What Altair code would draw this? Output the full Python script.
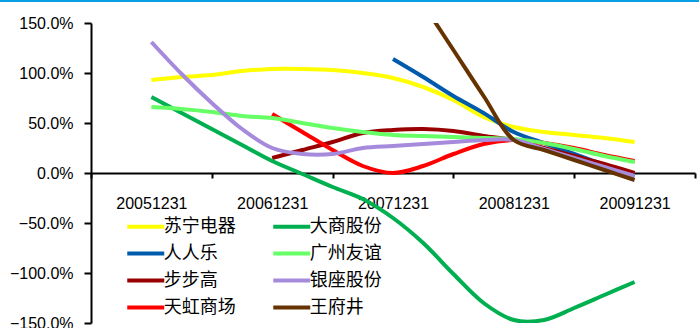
import altair as alt
import pandas as pd

# ---- data (quarterly, index 0 = 20051231 ... 16 = 20091231) ----
quarters = list(range(17))
x_labels = ['20051231', '20061231', '20071231', '20081231', '20091231']
N = None
suning = [93, 96, 98, 102, 104, 104, 103, 100, 95, 86, 73, 56, 46, 41, 38, 35, 31]
renrenle = [N] * 8 + [114, 96, 77, 60, 41, 30, 19, 8, -3]
bubugao = [N] * 4 + [15, 23, 31, 40, 43, 44, 42, 37, 33, 25, 17, 9, 0]
tianhong = [N] * 4 + [59, 41, 23, 7, 0, 7, 19, 29, 33, 30, 25, 18, 12]
dashang = [76, 60, 44, 28, 12, -1, -14, -26, -45, -70, -101, -130, -147, -147, -135, -122, -109]
guangzhou = [66, 64, 61, 57, 55, 50, 45, 41, 38, 37, 36, 35, 34, 30, 24, 17, 11]
yinzuo = [131, 99, 70, 44, 25, 19, 19, 25, 27, 29, 31, 33, 33, 24, 15, 6, -3]
wangfujing = [N] * 9 + [169, 123, 77, 33, 23, 13, 3, -7]

series = [
    ('苏宁电器', suning, '#FFFF00'),
    ('人人乐', renrenle, '#005BAC'),
    ('步步高', bubugao, '#990000'),
    ('天虹商场', tianhong, '#FF0000'),
    ('大商股份', dashang, '#00B050'),
    ('广州友谊', guangzhou, '#66FF66'),
    ('银座股份', yinzuo, '#A68BDD'),
    ('王府井', wangfujing, '#663300'),
]
legend_order = [name for name, _, _ in series]
color_map = {name: c for name, _, c in series}

rows = []
for order, (name, vals, _) in enumerate(series):
    for q, v in zip(quarters, vals):
        if v is not None:
            rows.append({'series': name, 'q': q, 'value': v, 'order': order})
df = pd.DataFrame(rows)

label_array = '[' + ','.join("'" + s + "'" for s in x_labels) + ']'
label_expr = "datum.value % 4 === 0 ? " + label_array + "[datum.value / 4] : ''"

x_axis = alt.Axis(
    values=list(range(-2, 19, 2)),
    orient='bottom',
    offset=-150,
    title=None,
    grid=False,
    domainColor='black',
    domainWidth=2,
    tickColor='black',
    tickWidth=2,
    tickSize=5,
    tickOpacity={"condition": {"test": "datum.value % 4 === 0", "value": 0}, "value": 1},
    labelExpr=label_expr,
    labelFont='Liberation Sans',
    labelFontSize=16,
    labelColor='black',
    labelPadding=17,
    labelOverlap=False,
    labelFlush=False,
)

y_axis = alt.Axis(
    values=[-150, -100, -50, 0, 50, 100, 150],
    title=None,
    grid=False,
    domainColor='black',
    domainWidth=2,
    tickColor='black',
    tickWidth=2,
    tickSize=7,
    labelExpr="format(datum.value, '.1f') + '%'",
    labelFont='Liberation Sans',
    labelFontSize=16,
    labelColor='black',
    labelPadding=11,
)

lines = alt.Chart(df).mark_line(strokeWidth=4, clip=True, interpolate='catmull-rom').encode(
    x=alt.X('q:Q', scale=alt.Scale(domain=[-2, 18], nice=False, zero=False), axis=x_axis),
    y=alt.Y('value:Q', scale=alt.Scale(domain=[-150, 150], nice=False), axis=y_axis),
    color=alt.Color(
        'series:N',
        scale=alt.Scale(domain=legend_order, range=[color_map[n] for n in legend_order]),
        legend=alt.Legend(
            title=None,
            orient='none',
            legendX=34,
            legendY=192,
            columns=2,
            symbolType='M-2,0H2',
            symbolSize=342,
            symbolStrokeWidth=4,
            symbolOffset=9.25,
            labelFont='Noto Sans CJK SC',
            labelFontSize=18,
            labelColor='black',
            labelOffset=6.5,
            columnPadding=29,
            rowPadding=6,
            padding=0,
        ),
    ),
    order=alt.Order('order:Q'),
    detail='series:N',
)

top_border = alt.Chart(pd.DataFrame({'a': [0]})).mark_rule(
    color='#0AA0E6', strokeWidth=2, clip=False
).encode(
    x=alt.value(-91), x2=alt.value(608), y=alt.value(-22)
)

chart = alt.layer(lines, top_border).properties(
    width=604,
    height=300,
    autosize=alt.AutoSizeParams(type='none'),
    padding={'left': 91, 'top': 23, 'right': 4, 'bottom': 5},
    background='white',
).configure_view(stroke=None)

chart.save("out.html", embed_options={"renderer": "svg", "actions": False})
